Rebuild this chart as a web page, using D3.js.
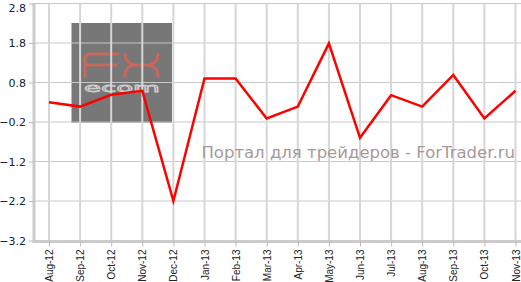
<!DOCTYPE html>
<html>
<head>
<meta charset="utf-8">
<script src="https://cdn.jsdelivr.net/npm/d3@7"></script>
<style>
  body { margin: 0; background: #fff; }
  svg { display: block; }
</style>
</head>
<body>
<script>
let months = ["Aug-12", "Sep-12", "Oct-12", "Nov-12", "Dec-12", "Jan-13", "Feb-13", "Mar-13",
  "Apr-13", "May-13", "Jun-13", "Jul-13", "Aug-13", "Sep-13", "Oct-13", "Nov-13"];
let values = [0.3, 0.19, 0.49, 0.59, -2.2, 0.9, 0.9, -0.11, 0.19, 1.79, -0.6, 0.48, 0.19, 0.99, -0.11, 0.59];
let yTicks = [2.8, 1.8, 0.8, -0.2, -1.2, -2.2, -3.2];

let width = 521,
  height = 282,
  plotLeft = 34,
  plotTop = 3.5,
  plotBottom = 240.5;

let svg = d3.select("body").append("svg")
  .attr("width", width)
  .attr("height", height);

let x = d3.scalePoint().domain(months).range([49, 515.5]);
let y = d3.scaleLinear().domain([-3.2, 2.8]).range([plotBottom, plotTop]);

// watermark box (under the grid)
svg.append("rect")
  .attr("x", 71.5).attr("y", 23)
  .attr("width", 100.5).attr("height", 99)
  .attr("fill", "#777");
svg.append("line")
  .attr("x1", 71.5).attr("x2", 172)
  .attr("y1", 122).attr("y2", 122)
  .attr("stroke", "#555").attr("stroke-width", 1);

// FX logo
let logo = svg.append("g")
  .attr("fill", "none")
  .attr("stroke", "#c8675b")
  .attr("stroke-width", 3)
  .attr("stroke-linecap", "round");
logo.append("path").attr("d", "M85,76 V59 Q85,54 90,54 H118 M85,65 H116");
logo.append("path").attr("d", "M125,54 Q125,63 134,65 H149 Q158,63 158,54 M125,76 Q125,67 134,65 H149 Q158,67 158,76");

svg.append("text")
  .attr("x", 84).attr("y", 92)
  .attr("textLength", 76)
  .attr("lengthAdjust", "spacingAndGlyphs")
  .attr("font-family", "DejaVu Sans")
  .attr("font-size", 13)
  .attr("fill", "none")
  .attr("stroke", "#cfcfcf")
  .attr("stroke-width", 0.8)
  .text("ecom");

// grid
svg.append("g").selectAll("line")
  .data(yTicks)
  .enter().append("line")
  .attr("x1", plotLeft).attr("x2", width)
  .attr("y1", (d) => y(d)).attr("y2", (d) => y(d))
  .attr("stroke", "#c8c8c8")
  .attr("stroke-width", 1);

svg.append("g").selectAll("line")
  .data(months)
  .enter().append("line")
  .attr("x1", (d) => x(d)).attr("x2", (d) => x(d))
  .attr("y1", plotTop).attr("y2", plotBottom)
  .attr("stroke", "#d6d6d6")
  .attr("stroke-width", 2);

// watermark text
svg.append("text")
  .attr("x", 515).attr("y", 158)
  .attr("text-anchor", "end")
  .attr("font-family", "DejaVu Sans")
  .attr("font-size", 16.5)
  .attr("fill", "#a99898")
  .text("Портал для трейдеров - ForTrader.ru");

// y axis
let yAxis = svg.append("g")
  .attr("transform", "translate(" + plotLeft + ",0)")
  .call(d3.axisLeft(y).tickValues(yTicks).tickSize(5).tickPadding(3).tickFormat(d3.format(".1f")));
yAxis.select(".domain").attr("stroke", "#cbcbcb").attr("stroke-width", 3).attr("d", "M0," + plotTop + "V" + (plotBottom + 1.5));
yAxis.selectAll(".tick line").attr("stroke", "#bbb");
yAxis.selectAll("text")
  .attr("font-family", "DejaVu Sans")
  .attr("font-size", 11)
  .attr("fill", "#0f1c3c")
  .attr("dy", (d) => (d === 2.8 ? "0.75em" : "0.32em"));

// x axis
let xAxis = svg.append("g")
  .attr("transform", "translate(0," + (plotBottom + 1) + ")")
  .call(d3.axisBottom(x).tickSize(5).tickPadding(4));
xAxis.select(".domain").attr("stroke", "#cbcbcb").attr("stroke-width", 3).attr("d", "M" + (plotLeft - 1.5) + ",0H" + width);
xAxis.selectAll(".tick line").attr("stroke", "#bbb");
xAxis.selectAll("text")
  .attr("font-family", "Liberation Sans, Arial")
  .attr("font-size", 10)
  .attr("fill", "#222")
  .attr("text-anchor", "end")
  .attr("dy", "0.35em")
  .attr("transform", "translate(0,8) rotate(-90)")
  .attr("x", 0).attr("y", 0);

// line
let line = d3.line()
  .x((d, i) => x(months[i]))
  .y((d) => y(d));

svg.append("path")
  .datum(values)
  .attr("d", line)
  .attr("fill", "none")
  .attr("stroke", "#ff0000")
  .attr("stroke-width", 2.5)
  .attr("stroke-linejoin", "miter");
</script>
</body>
</html>
